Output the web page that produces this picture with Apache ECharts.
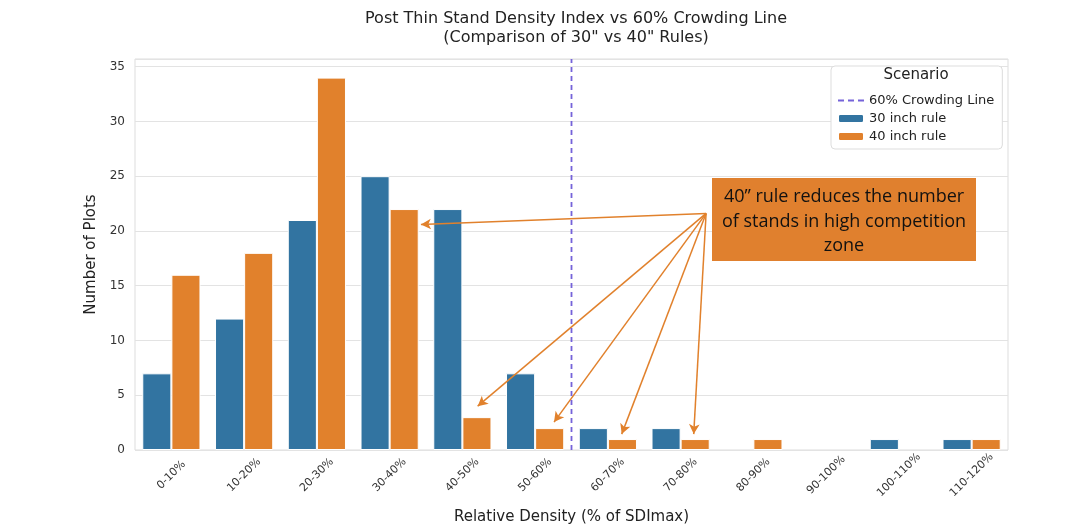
<!DOCTYPE html>
<html><head><meta charset="utf-8">
<script src="https://cdn.jsdelivr.net/npm/echarts@6/dist/echarts.min.js"></script>
<style>html,body{margin:0;padding:0;background:#fff}#c{width:1078px;height:531px}</style>
</head><body><div id="c"></div>
<script>
const categories = ['0-10%','10-20%','20-30%','30-40%','40-50%','50-60%','60-70%','70-80%','80-90%','90-100%','100-110%','110-120%'];
const rule30 = [7,12,21,25,22,7,2,2,0,0,1,1];
const rule40 = [16,18,34,22,3,2,1,1,1,0,0,1];
const crowdingX = 5.5;
const yMax = 35.7;
// annotation arrows in data coordinates
const arrowFrom = [7.35, 21.6];
const arrowTo = [[3.43,20.6],[4.21,4.0],[5.26,2.55],[6.19,1.45],[7.18,1.45]];
const noteLines = ['40\u201d rule reduces the number','of stands in high competition','zone'];

const font = 'DejaVu Sans';
const hideZero = v => (v === 0 ? '-' : v);
const dashIcon = 'path://M0,0h0.01v0.01h-0.01z M0,9h0.01v-0.01h-0.01z M26,0h0.01v0.01h-0.01z M0,3.6h6v1.8h-6z M10,3.6h6v1.8h-6z M20,3.6h6v1.8h-6z';
const chart = echarts.init(document.getElementById('c'));
chart.setOption({
  animation:false,
  backgroundColor:'#fff',
  title:{text:'Post Thin Stand Density Index vs 60% Crowding Line\n(Comparison of 30" vs 40" Rules)',left:571,textAlign:'center',top:4,
    textStyle:{fontFamily:font,fontSize:16,fontWeight:'normal',color:'#222',lineHeight:19}},
  grid:{left:135,right:70,top:59,bottom:81,show:true,borderColor:'#dddddd',borderWidth:1},
  legend:{orient:'vertical',left:831,top:66,padding:[28,8,6,6],itemGap:5,itemWidth:26,itemHeight:9,
    backgroundColor:'#fff',borderColor:'#dddddd',borderWidth:1,borderRadius:4,
    data:[{name:'60% Crowding Line',icon:dashIcon,itemStyle:{color:'#7563d9',borderWidth:0}},'30 inch rule','40 inch rule'],
    textStyle:{fontFamily:font,fontSize:13,color:'#222'}},
  xAxis:[{type:'category',data:categories,axisLine:{show:false},axisTick:{show:false},
      axisLabel:{rotate:45,align:'center',verticalAlign:'middle',fontFamily:font,fontSize:11,color:'#333',margin:25},
      name:'Relative Density (% of SDImax)',nameLocation:'middle',nameGap:60,
      nameTextStyle:{fontFamily:font,fontSize:15,color:'#222'}},
    {type:'value',min:-0.5,max:11.5,show:false}],
  yAxis:{type:'value',min:0,max:yMax,interval:5,axisLine:{show:false},axisTick:{show:false},
    axisLabel:{fontFamily:font,fontSize:12,color:'#333',margin:10,formatter:v=>(v%5===0?v:'')},
    splitLine:{lineStyle:{color:'#e3e3e3',width:1}},
    name:'Number of Plots',nameLocation:'middle',nameGap:22,nameTextStyle:{fontFamily:font,fontSize:15,color:'#222'}},
  series:[
    {name:'30 inch rule',type:'bar',data:rule30.map(hideZero),barGap:'0%',barCategoryGap:'20%',
      itemStyle:{color:'#3274a1',borderColor:'#fff',borderWidth:1}},
    {name:'40 inch rule',type:'bar',data:rule40.map(hideZero),
      itemStyle:{color:'#e1812c',borderColor:'#fff',borderWidth:1}},
    {name:'60% Crowding Line',type:'line',xAxisIndex:1,symbol:'none',data:[[crowdingX,0],[crowdingX,yMax]],
      lineStyle:{color:'#7563d9',width:1.8,type:[5,4]},itemStyle:{color:'#7563d9'},z:5,
      markLine:{silent:true,symbol:['none','arrow'],symbolSize:[8,10],
        lineStyle:{color:'#e1812c',width:1.5,type:'solid'},label:{show:false},
        data:arrowTo.map(t=>[{coord:arrowFrom},{coord:t}])}}
  ],
  graphic:[
    {type:'text',x:916,y:68,style:{text:'Scenario',align:'center',fontFamily:font,fontSize:15,fill:'#222'},z:100},
    {type:'rect',shape:{x:712,y:178,width:264,height:83},style:{fill:'#e0802e'},z:50},
    {type:'text',x:844,y:185,style:{text:noteLines.join('\n'),align:'center',fontFamily:'Open Sans',fontSize:18,lineHeight:24.5,fill:'#111'},z:51}
  ]
});
</script></body></html>
